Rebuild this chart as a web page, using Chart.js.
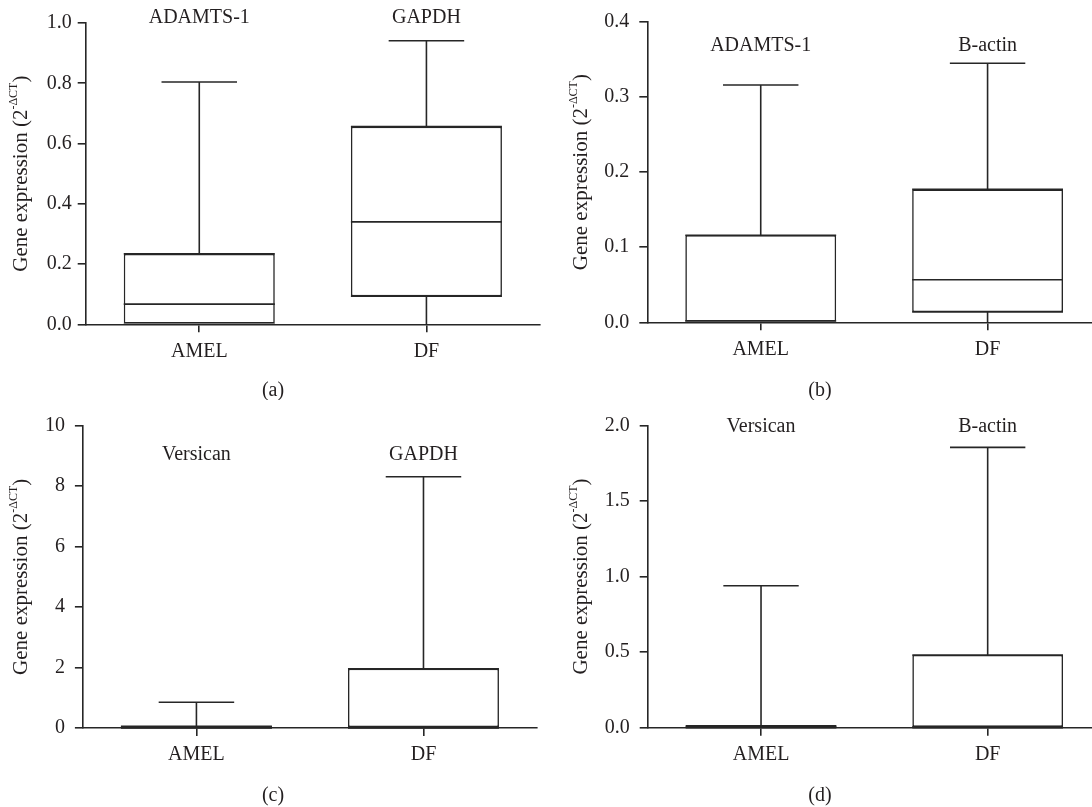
<!DOCTYPE html>
<html>
<head>
<meta charset="utf-8">
<script src="https://cdn.jsdelivr.net/npm/chart.js@4.4.1/dist/chart.umd.min.js"></script>
<style>
body { margin: 0; background: #fff; }
#painel { position: relative; width: 1092px; height: 807px; overflow: hidden; }
#painel canvas { position: absolute; }
</style>
</head>
<body>
<div id="painel">
<canvas id="Grafico1" width="546" height="400" style="left:0;top:0"></canvas>
<canvas id="Grafico2" width="560" height="400" style="left:546px;top:0"></canvas>
<canvas id="Grafico3" width="546" height="407" style="left:0;top:400px"></canvas>
<canvas id="Grafico4" width="560" height="407" style="left:546px;top:400px"></canvas>
</div>
<script>
// Dados //
const grupos = ['AMEL', 'DF'];

// (a) ADAMTS-1 / GAPDH
const genesA = ['ADAMTS-1', 'GAPDH'];
const minA = [0, 0];
const q1A = [0, 0.093];
const medA = [0.067, 0.34];
const q3A = [0.234, 0.656];
const maxA = [0.804, 0.941];
const ticksA = [0, 0.2, 0.4, 0.6, 0.8, 1.0];

// (b) ADAMTS-1 / B-actin
const genesB = ['ADAMTS-1', 'B-actin'];
const minB = [0, 0];
const q1B = [0, 0.0137];
const medB = [0.002, 0.0566];
const q3B = [0.116, 0.177];
const maxB = [0.316, 0.345];
const ticksB = [0, 0.1, 0.2, 0.3, 0.4];

// (c) Versican / GAPDH
const genesC = ['Versican', 'GAPDH'];
const minC = [0, 0];
const q1C = [0, 0];
const medC = [0.02, 0.02];
const q3C = [0.06, 1.96];
const maxC = [0.85, 8.31];
const ticksC = [0, 2, 4, 6, 8, 10];

// (d) Versican / B-actin
const genesD = ['Versican', 'B-actin'];
const minD = [0, 0];
const q1D = [0, 0];
const medD = [0.004, 0.006];
const q3D = [0.012, 0.481];
const maxD = [0.939, 1.854];
const ticksD = [0, 0.5, 1.0, 1.5, 2.0];
// -------------------------------- //

const fonte = 'Liberation Serif, Times New Roman, serif';
const corLinha = '#262626';
const corTexto = '#231f20';

// Plugin que desenha mediana, bigodes e textos //
const boxPlot = {
    id: 'boxPlot',
    afterDatasetsDraw(chart, args, o) {
        const ctx = chart.ctx;
        const y = chart.scales.y;
        const area = chart.chartArea;
        const meta = chart.getDatasetMeta(0);
        function linha(x1, y1, x2, y2) {
            ctx.beginPath();
            ctx.moveTo(x1, y1);
            ctx.lineTo(x2, y2);
            ctx.stroke();
        }
        ctx.save();
        ctx.strokeStyle = corLinha;
        ctx.lineWidth = 1.6;
        // eixo x ate a borda
        if (o.estender) linha(area.right, area.bottom, chart.width, area.bottom);
        meta.data.forEach(function (bar, i) {
            const x = bar.x, w = bar.width;
            const pMin = y.getPixelForValue(o.min[i]);
            const pQ1 = y.getPixelForValue(o.q1[i]);
            const pMed = y.getPixelForValue(o.med[i]);
            const pQ3 = y.getPixelForValue(o.q3[i]);
            const pMax = y.getPixelForValue(o.max[i]);
            linha(x - w / 2, pQ1, x + w / 2, pQ1);
            linha(x - w / 2, pMed, x + w / 2, pMed);
            linha(x - w / 2, pQ3, x + w / 2, pQ3);
            linha(x, pQ3, x, pMax);
            linha(x - w / 4, pMax, x + w / 4, pMax);
            linha(x, pQ1, x, pMin);
            // nome do gene
            ctx.fillStyle = corTexto;
            ctx.font = '20px ' + fonte;
            ctx.textAlign = 'center';
            ctx.textBaseline = 'middle';
            ctx.fillText(o.genes[i], x, y.getPixelForValue(o.geneY));
        });
        // titulo do eixo y com sobrescrito
        const partes = [['Gene expression (2', '21px ' + fonte, 0], ['-\u0394CT', '12px ' + fonte, -7], [')', '21px ' + fonte, 0]];
        let total = 0;
        partes.forEach(function (p) { ctx.font = p[1]; total += ctx.measureText(p[0]).width; });
        ctx.translate(o.tituloX, (area.top + area.bottom) / 2);
        ctx.rotate(-Math.PI / 2);
        ctx.textAlign = 'left';
        ctx.textBaseline = 'middle';
        let px = -total / 2;
        partes.forEach(function (p) {
            ctx.font = p[1];
            ctx.fillText(p[0], px, p[2]);
            px += ctx.measureText(p[0]).width;
        });
        ctx.restore();
        // letra do painel
        ctx.save();
        ctx.fillStyle = corTexto;
        ctx.font = '20px ' + fonte;
        ctx.textAlign = 'center';
        ctx.textBaseline = 'middle';
        ctx.fillText(o.letra, o.letraX, o.letraY);
        ctx.restore();
    }
};

// Monta a configuracao de cada grafico //
function montaConfig(q1, q3, ticks, decimais, larguraY, padY, alturaX, padDir, padTopo, extra) {
    return {
        type: 'bar',
        data: {
            labels: grupos,
            datasets: [{
                data: grupos.map(function (g, i) { return [q1[i], q3[i]]; }),
                backgroundColor: '#ffffff',
                borderColor: corLinha,
                borderWidth: 1.6,
                borderSkipped: false,
                barPercentage: 0.665,
                categoryPercentage: 1
            }]
        },
        options: {
            responsive: false,
            animation: false,
            layout: { padding: { left: 0, right: padDir, top: padTopo, bottom: 0 } },
            plugins: {
                legend: { display: false },
                tooltip: { enabled: false },
                boxPlot: extra
            },
            scales: {
                x: {
                    grid: { display: true, drawOnChartArea: false, drawTicks: true, tickLength: 8, offset: false, color: corLinha, lineWidth: 1.6 },
                    border: { display: true, color: corLinha, width: 1.6 },
                    ticks: { color: corTexto, font: { family: fonte, size: 20 }, padding: 7 },
                    afterFit: function (s) { s.height = alturaX; }
                },
                y: {
                    min: ticks[0],
                    max: ticks[ticks.length - 1],
                    afterBuildTicks: function (s) { s.ticks = ticks.map(function (v) { return { value: v }; }); },
                    grid: { display: true, drawOnChartArea: false, drawTicks: true, tickLength: 8, color: corLinha, lineWidth: 1.6 },
                    border: { display: true, color: corLinha, width: 1.6 },
                    ticks: {
                        color: corTexto, font: { family: fonte, size: 20 }, padding: padY,
                        callback: function (v) { return Number(v).toFixed(decimais); }
                    },
                    afterFit: function (s) { s.width = larguraY; }
                }
            }
        },
        plugins: [boxPlot]
    };
}

const config1 = montaConfig(q1A, q3A, ticksA, 1, 85.7, 6, 75.7, 6, 23, {
    min: minA, q1: q1A, med: medA, q3: q3A, max: maxA, genes: genesA, geneY: 1.016,
    tituloX: 21, letra: '(a)', letraX: 273, letraY: 391, estender: false
});
const config2 = montaConfig(q1B, q3B, ticksB, 1, 101.3, 10, 77.7, 5, 20, {
    min: minB, q1: q1B, med: medB, q3: q3B, max: maxB, genes: genesB, geneY: 0.369,
    tituloX: 35, letra: '(b)', letraX: 274, letraY: 391, estender: true
});
const config3 = montaConfig(q1C, q3C, ticksC, 0, 82.9, 10, 79, 9, 25.7, {
    min: minC, q1: q1C, med: medC, q3: q3C, max: maxC, genes: genesC, geneY: 9.03,
    tituloX: 21, letra: '(c)', letraX: 273, letraY: 396, estender: false
});
const config4 = montaConfig(q1D, q3D, ticksD, 1, 101.7, 10, 79.3, 5, 25.3, {
    min: minD, q1: q1D, med: medD, q3: q3D, max: maxD, genes: genesD, geneY: 1.989,
    tituloX: 35, letra: '(d)', letraX: 274, letraY: 396, estender: true
});

// Iniciando os graficos //
new Chart(document.getElementById('Grafico1'), config1);
new Chart(document.getElementById('Grafico2'), config2);
new Chart(document.getElementById('Grafico3'), config3);
new Chart(document.getElementById('Grafico4'), config4);
</script>
</body>
</html>
